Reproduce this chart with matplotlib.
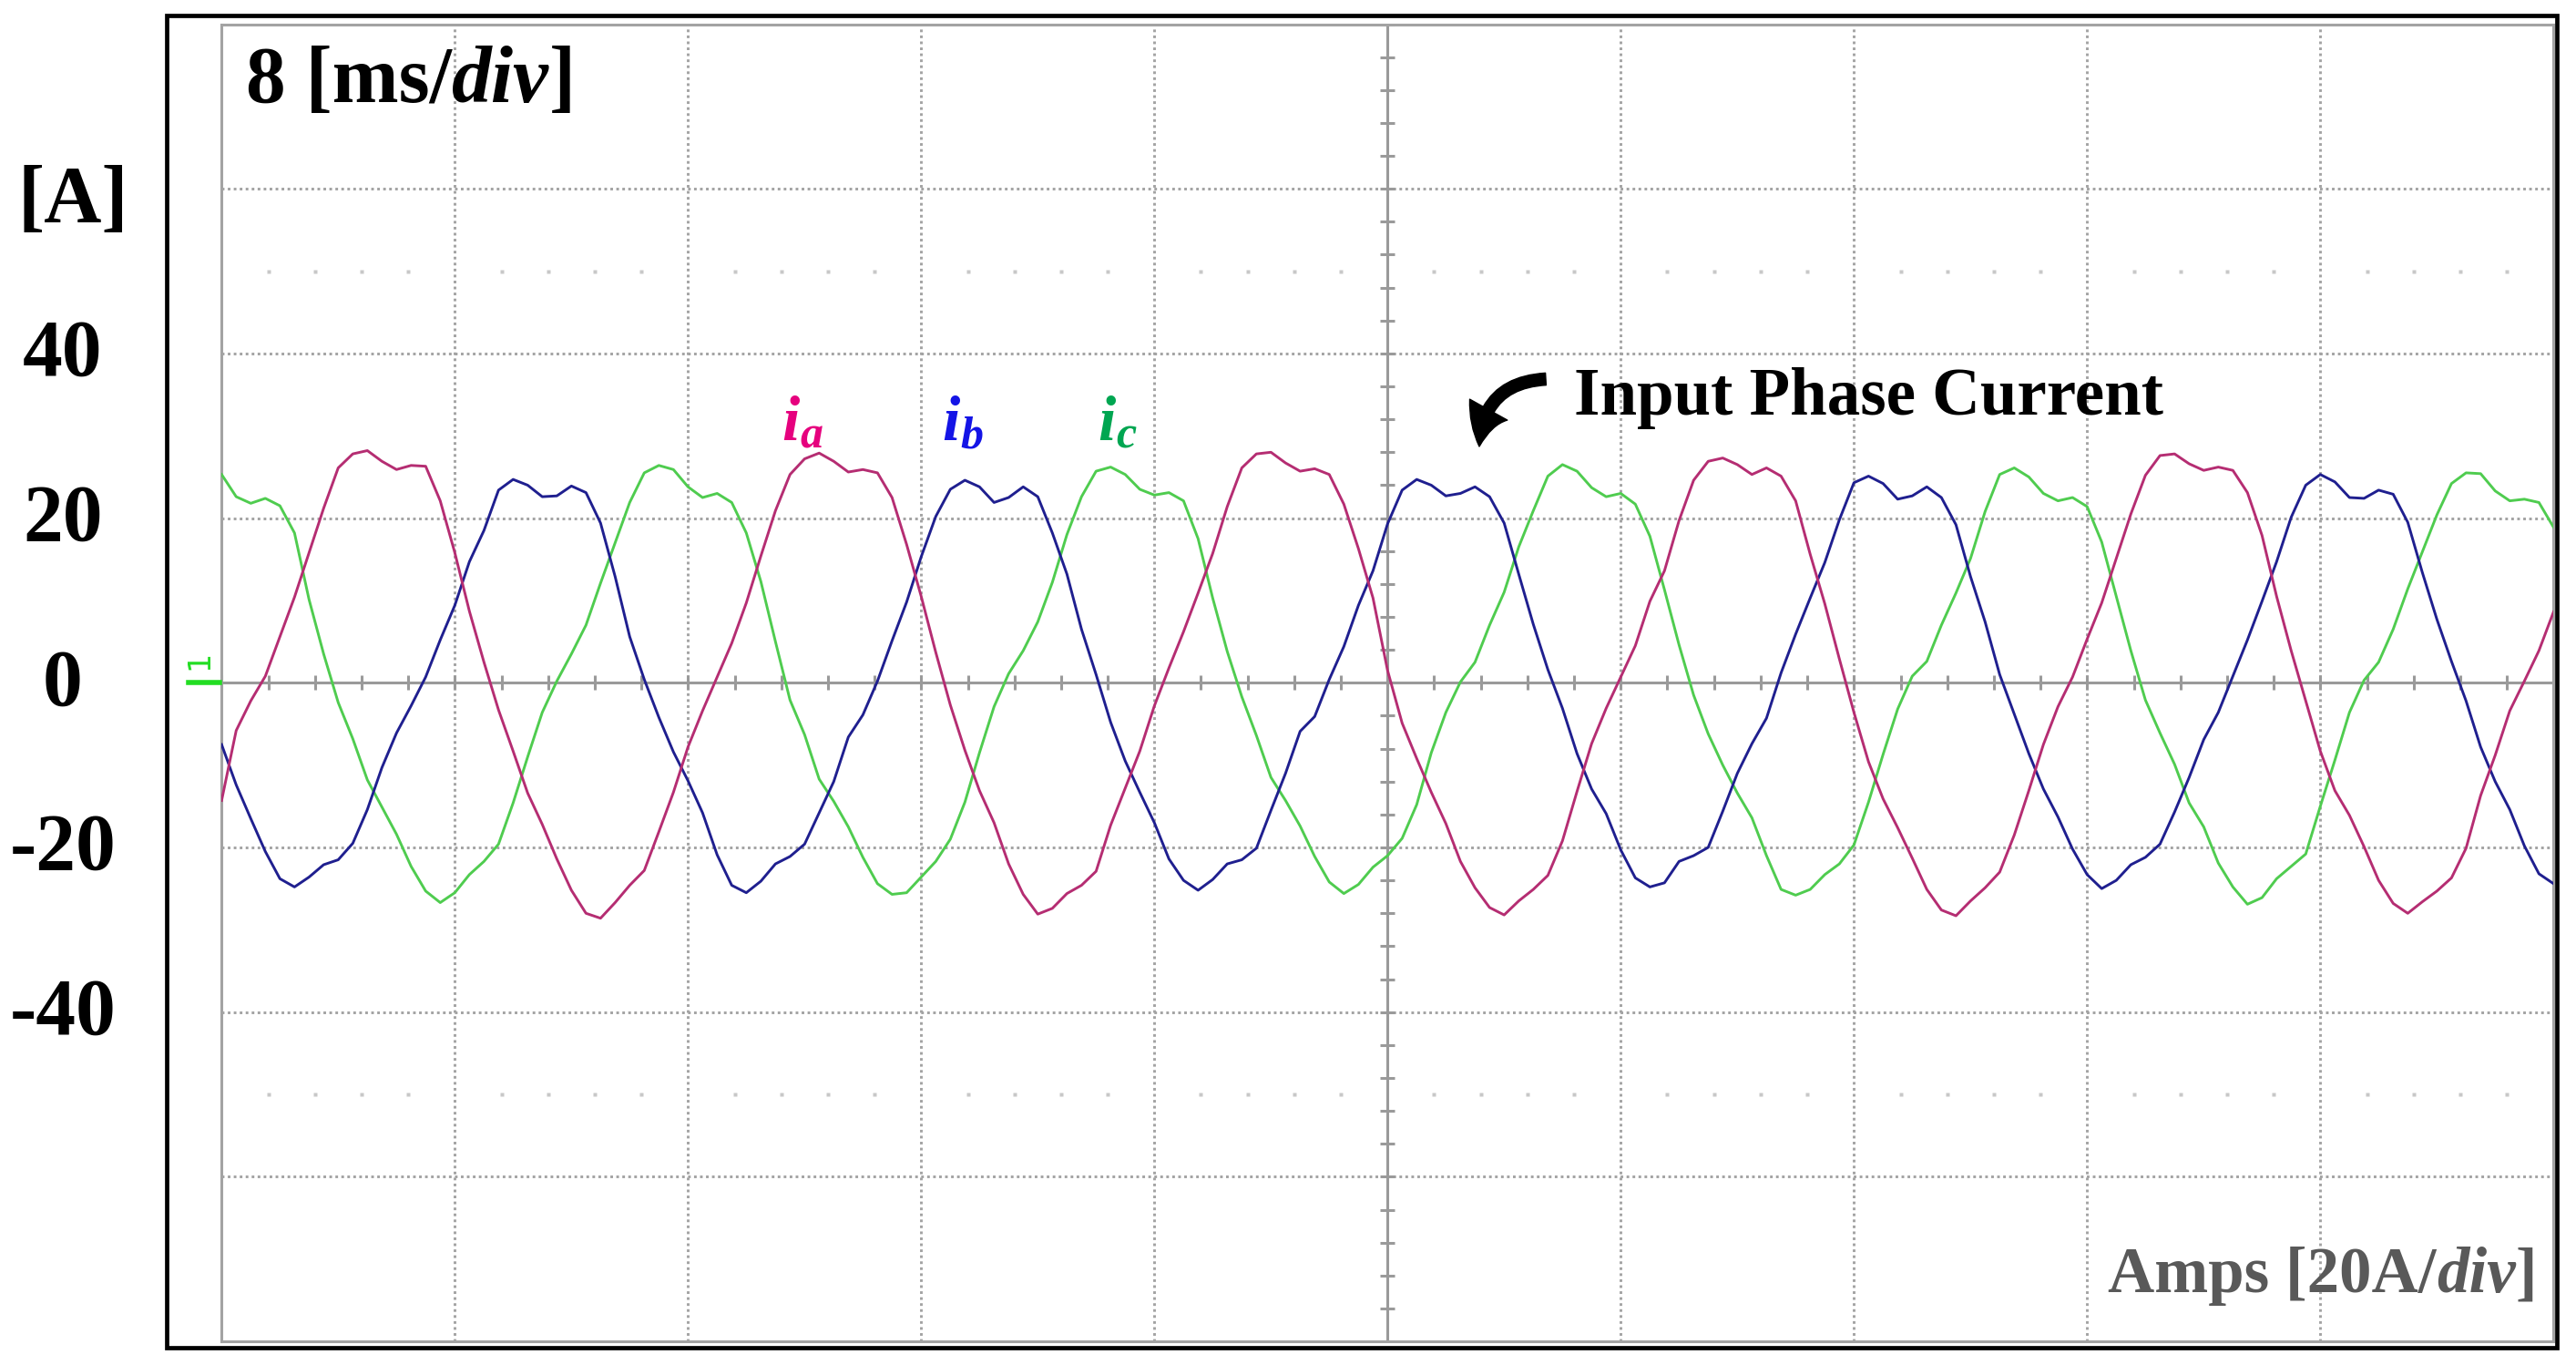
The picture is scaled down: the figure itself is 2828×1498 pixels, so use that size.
import numpy as np
import matplotlib
matplotlib.use("Agg")
import matplotlib.pyplot as plt
from matplotlib import transforms
from matplotlib.patches import Rectangle, FancyArrowPatch

W, H = 2828, 1498
SERIF = "Liberation Serif"

# scope trace, read every 0.5 ms over 10 divisions of 8 ms
t_ms = np.arange(0, 80.5, 0.5)

i_a = [-14.3, -5.8, -2.2, 0.8, 5.6, 10.4, 15.8, 21.2, 26.1, 27.8,
       28.2, 26.9, 25.9, 26.4, 26.3, 22.1, 15.8, 8.7, 2.5, -3.3,
       -8.3, -13.4, -17.2, -21.4, -25.2, -28.0, -28.6, -26.7, -24.6, -22.8,
       -18.1, -13.3, -7.8, -3.4, 0.7, 4.8, 9.7, 15.4, 20.9, 25.3,
       27.2, 27.9, 26.9, 25.6, 25.9, 25.5, 22.5, 16.8, 10.5, 3.7,
       -2.7, -8.2, -13.1, -17.0, -22.0, -25.7, -28.1, -27.4, -25.6, -24.6,
       -22.9, -17.3, -12.8, -8.3, -2.8, 1.8, 6.2, 10.9, 15.7, 21.4,
       26.1, 27.8, 28.0, 26.7, 25.7, 26.0, 25.3, 21.7, 16.3, 10.3,
       1.5, -4.9, -9.2, -13.3, -17.1, -21.7, -24.9, -27.3, -28.2, -26.5,
       -25.1, -23.4, -19.2, -13.2, -7.4, -3.1, 0.7, 4.5, 9.9, 13.6,
       19.7, 24.6, 26.9, 27.3, 26.5, 25.3, 26.1, 25.1, 22.1, 15.6,
       9.6, 2.9, -3.6, -9.6, -14.1, -17.6, -21.3, -25.1, -27.6, -28.3,
       -26.5, -24.9, -23.0, -18.5, -13.1, -7.5, -2.9, 0.7, 5.3, 9.7,
       15.1, 20.5, 25.2, 27.6, 27.8, 26.6, 25.8, 26.2, 25.8, 23.1,
       17.9, 10.5, 3.9, -2.2, -8.3, -13.1, -16.1, -19.9, -24.0, -26.8,
       -28.0, -26.6, -25.3, -23.7, -20.1, -13.7, -8.8, -3.4, 0.2, 3.9,
       8.6]

i_b = [-7.5, -12.4, -16.5, -20.5, -23.8, -24.8, -23.6, -22.1, -21.5, -19.5,
       -15.4, -10.3, -6.1, -2.8, 0.7, 5.2, 9.4, 14.7, 18.5, 23.4,
       24.7, 24.0, 22.6, 22.7, 23.9, 23.1, 19.4, 12.9, 5.6, 0.4,
       -4.2, -8.4, -11.9, -15.8, -20.9, -24.6, -25.5, -24.1, -22.0, -21.1,
       -19.6, -15.8, -12.0, -6.6, -3.9, 0.2, 5.1, 9.8, 15.3, 20.2,
       23.5, 24.6, 23.8, 21.9, 22.5, 23.8, 22.6, 18.2, 13.2, 6.5,
       1.0, -4.8, -9.5, -13.3, -17.0, -21.4, -24.0, -25.2, -23.9, -22.0,
       -21.5, -20.1, -15.5, -11.0, -5.9, -4.1, 0.4, 4.4, 9.4, 13.6,
       19.3, 23.4, 24.7, 24.0, 22.7, 23.0, 23.8, 22.6, 19.4, 13.2,
       7.1, 1.6, -3.1, -8.6, -12.9, -15.9, -20.3, -23.7, -24.8, -24.3,
       -21.7, -21.0, -20.0, -15.6, -11.0, -7.4, -4.3, 1.2, 5.9, 10.3,
       14.6, 19.8, 24.3, 25.1, 24.2, 22.3, 22.7, 23.8, 22.5, 19.2,
       12.9, 7.4, 1.0, -3.8, -8.6, -12.9, -16.3, -20.2, -23.3, -25.0,
       -24.0, -22.1, -21.2, -19.6, -15.7, -11.5, -6.9, -3.6, 0.8, 5.2,
       9.9, 14.7, 20.1, 24.0, 25.3, 24.4, 22.5, 22.4, 23.4, 22.9,
       19.5, 13.4, 7.7, 2.6, -2.2, -7.8, -12.0, -15.4, -19.8, -23.2,
       -24.4]

i_c = [25.3, 22.6, 21.8, 22.4, 21.5, 18.2, 10.1, 3.5, -2.4, -6.8,
       -11.8, -15.1, -18.4, -22.3, -25.3, -26.7, -25.5, -23.3, -21.7, -19.6,
       -14.6, -9.0, -3.6, 0.2, 3.5, 7.0, 12.1, 17.0, 21.9, 25.5,
       26.4, 25.9, 23.8, 22.5, 23.0, 21.9, 18.2, 12.3, 5.0, -2.1,
       -6.3, -11.7, -14.4, -17.5, -21.2, -24.4, -25.7, -25.5, -23.6, -21.7,
       -19.0, -14.5, -8.5, -2.9, 1.1, 3.9, 7.4, 12.2, 18.0, 22.6,
       25.7, 26.2, 25.3, 23.5, 22.8, 23.1, 22.1, 17.5, 10.3, 3.8,
       -1.7, -6.4, -11.5, -14.3, -17.4, -21.1, -24.2, -25.6, -24.5, -22.4,
       -21.0, -18.9, -14.8, -8.5, -3.6, 0.1, 2.5, 7.0, 11.0, 16.5,
       20.9, 25.1, 26.5, 25.7, 23.7, 22.6, 23.0, 21.7, 17.8, 11.3,
       4.6, -1.5, -6.2, -10.0, -13.4, -16.4, -21.0, -25.1, -25.8, -25.1,
       -23.3, -22.0, -19.7, -14.5, -8.7, -3.2, 0.8, 2.6, 7.0, 10.9,
       15.1, 20.8, 25.3, 26.1, 25.0, 23.0, 22.1, 22.5, 21.4, 17.1,
       10.5, 3.9, -2.1, -6.1, -9.9, -14.6, -17.5, -21.9, -24.8, -26.9,
       -26.1, -23.8, -22.3, -20.8, -15.0, -9.4, -3.6, 0.3, 2.5, 6.5,
       11.4, 15.9, 20.4, 24.2, 25.5, 25.4, 23.3, 22.1, 22.3, 21.9,
       18.9]

y_ticks = [40, 20, 0, -20, -40]
y_tick_labels = ["40", "20", "0", "-20", "-40"]
x_grid = [8, 16, 24, 32, 48, 56, 64, 72]
y_grid = [-60, -40, -20, 20, 40, 60]

col_a, col_b, col_c = "#b52d72", "#1f1f8f", "#4fcc4f"
grid_col = "#a3a3a3"


def px(x, y):
    # image pixel (y down) -> figure fraction
    return (x / W, 1 - y / H)


fig = plt.figure(figsize=(W / 100, H / 100), dpi=100)
ax = fig.add_axes([243.3 / W, 1 - 1472.1 / H, 2560 / W, 1445.6 / H])
ax.set_xlim(0, 80)
ax.set_ylim(-80, 80)
ax.set_xticks([])
ax.set_yticks([])
for s in ax.spines.values():
    s.set_color(grid_col)
    s.set_linewidth(2.2)

dotted = (0, (1.0, 1.25))
for x in x_grid:
    ax.axvline(x, color=grid_col, lw=2.1, ls=dotted, zorder=1)
for y in y_grid:
    ax.axhline(y, color=grid_col, lw=2.1, ls=dotted, zorder=1)
ax.axhline(0, color="#9a9a9a", lw=2.2, zorder=1)
ax.axvline(40, color="#9a9a9a", lw=2.2, zorder=1)

# small division marks on the centre lines
tx = np.arange(0, 80.01, 1.6)
ax.plot(tx, np.zeros_like(tx), ls="none", marker="|", ms=11, mew=2.2,
        color="#9a9a9a", zorder=1)
ty = np.arange(-80, 80.01, 4)
ax.plot(np.full_like(ty, 40), ty, ls="none", marker="_", ms=11, mew=2.2,
        color="#9a9a9a", zorder=1)

# faint dot rows at +/-50 A
dots = [v for v in tx if abs(v / 8 - round(v / 8)) > 0.01]
for lvl in (50, -50):
    ax.plot(dots, [lvl] * len(dots), ls="none", marker="s", ms=2.2,
            color="#c8c8c8", mec="none", zorder=1)

ax.plot(t_ms, i_c, color=col_c, lw=2.1, zorder=3)
ax.plot(t_ms, i_b, color=col_b, lw=2.1, zorder=3)
ax.plot(t_ms, i_a, color=col_a, lw=2.1, zorder=3)

# outer black frame
fig.add_artist(Rectangle(px(183, 1479), (2807 - 183) / W, (1479 - 17) / H,
                         transform=fig.transFigure, fill=False,
                         ec="black", lw=3.4))

renderer = fig.canvas.get_renderer()


def put_runs(x, y, runs, size, color, align="left"):
    items = []
    for s, style in runs:
        txt = fig.text(0, 0, s, family=SERIF, fontsize=size,
                       fontweight="bold", fontstyle=style, color=color,
                       va="baseline")
        items.append((txt, txt.get_window_extent(renderer).width))
    total = sum(w for _, w in items)
    cur = x - total if align == "right" else x
    for txt, w in items:
        txt.set_position(px(cur, y))
        cur += w


put_runs(270, 112, [("8 [ms/", "normal"), ("div", "italic"), ("]", "normal")],
         63, "black")
put_runs(2785, 1418, [("Amps [20A/", "normal"), ("div", "italic"),
                      ("]", "normal")], 51, "#595959", align="right")
fig.text(*px(20, 243), "[A]", family=SERIF, fontsize=63, fontweight="bold",
         va="baseline")
fig.text(*px(1728, 455), "Input Phase Current", family=SERIF, fontsize=52.5,
         fontweight="bold", va="baseline")

# y labels left of the screen
lab_tr = transforms.offset_copy(
    transforms.blended_transform_factory(fig.transFigure, ax.transData),
    fig=fig, x=0, y=-24, units="dots")
for v, lab in zip(y_ticks, y_tick_labels):
    fig.text(69 / W, v, lab, transform=lab_tr, family=SERIF, fontsize=63,
             fontweight="bold", ha="center", va="baseline")

# phase labels
for (x0, sub, col) in [(858, "a", "#e6007e"), (1034, "b", "#1414e6"),
                       (1205, "c", "#00a651")]:
    t1 = fig.text(*px(x0, 483), "i", family=SERIF, fontsize=50,
                  fontweight="bold", fontstyle="italic", color=col,
                  va="baseline")
    w = t1.get_window_extent(renderer).width
    fig.text(*px(x0 + w + 1, 492), sub, family=SERIF, fontsize=36,
             fontweight="bold", fontstyle="italic", color=col, va="baseline")

# arrow to the traces
fig.add_artist(FancyArrowPatch(
    px(1697, 416), px(1624, 490), transform=fig.transFigure,
    arrowstyle="simple,head_length=0.75,head_width=0.85,tail_width=0.24",
    connectionstyle="arc3,rad=0.45", mutation_scale=40, color="black",
    shrinkA=0, shrinkB=0))

# channel 1 marker
fig.text(*px(219, 724), "1", family="DejaVu Sans", fontsize=24,
         color="#22dd22", rotation=90, ha="center", va="center")
fig.add_artist(plt.Line2D([207 / W, 241 / W], [1 - 749 / H, 1 - 749 / H],
                          transform=fig.transFigure, color="#22dd22", lw=4))

fig.savefig("out.png", dpi=100)
